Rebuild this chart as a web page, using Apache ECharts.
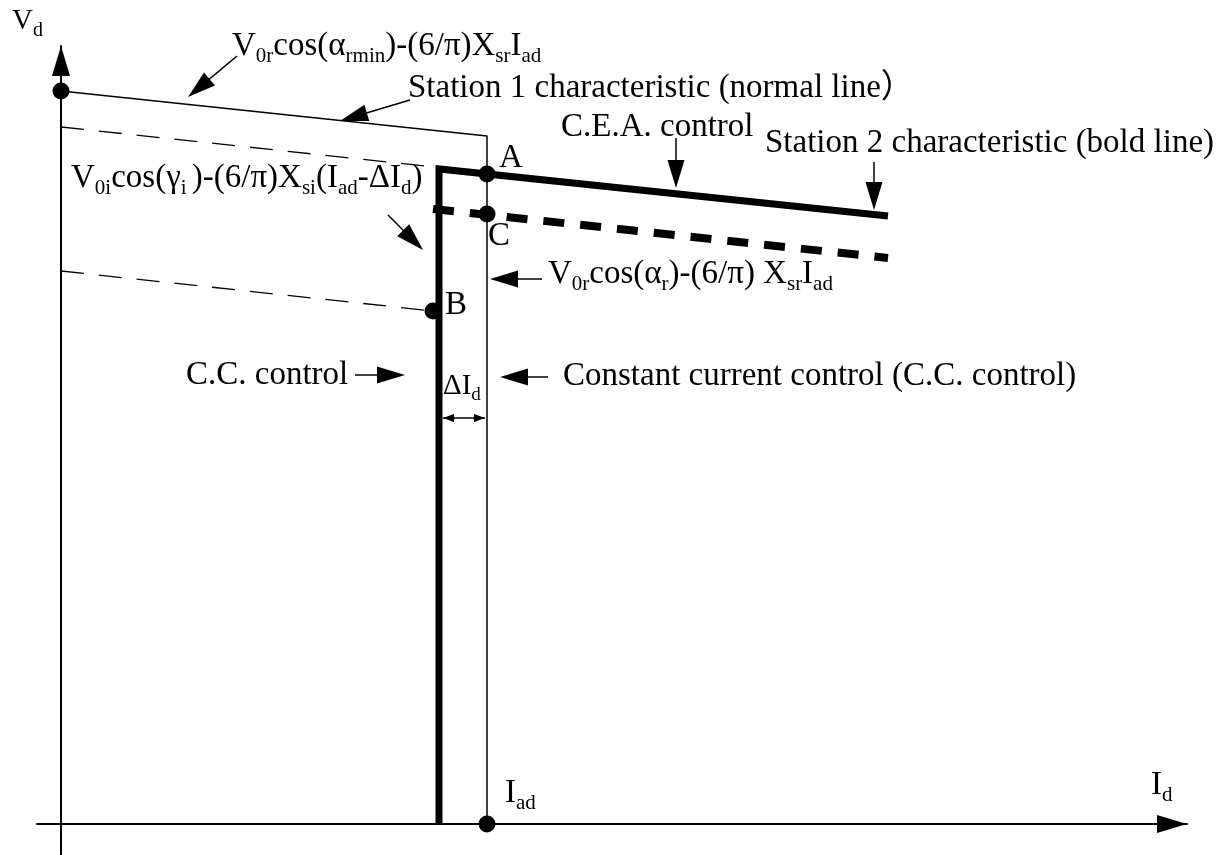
<!DOCTYPE html>
<html><head><meta charset="utf-8">
<script src="https://cdn.jsdelivr.net/npm/echarts@6/dist/echarts.min.js"></script>
<style>html,body{margin:0;padding:0;background:#fff}#c{width:1229px;height:855px}</style>
</head><body><div id="c"></div>
<script>
// Diagram values: Id along x, Vd along y, origin where the axes cross
const station1X = [0, 426, 426];
const station1Y = [733, 688, 0];
const station1DashHighX = [0, 364];
const station1DashHighY = [697, 658];
const station1DashLowX = [0, 372];
const station1DashLowY = [553, 513];
const station2X = [378, 378, 827];
const station2Y = [0, 655, 608];
const station2DashX = [372, 827];
const station2DashY = [615, 566];
const pointX = [0, 426, 426, 372, 426];
const pointY = [733, 650, 610, 513, 0];
// arrows: x1, y1 -> tip x2, y2, kind (0 single, 1 double small)
const arrows = [
  [176, 768, 127, 727, 0],
  [349, 724, 279, 703, 0],
  [615, 686, 615, 636, 0],
  [813, 662, 813, 614, 0],
  [327, 609, 362, 574, 0],
  [481, 545, 429, 545, 0],
  [294, 449, 344, 449, 0],
  [487, 447, 439, 447, 0],
  [382, 406, 424, 406, 1]
];
const labelTexts = [
  '{v|V}{vs|d}',
  '{m|V}{s|0r}{m|cos(α}{s|rmin}{m|)-(6/π)X}{s|sr}{m|I}{s|ad}',
  '{m|Station 1 characteristic (normal line）}',
  '{m|C.E.A. control}',
  '{m|Station 2 characteristic (bold line)}',
  '{m|A}',
  '{m|V}{s|0i}{m|cos(γ}{s|i }{m|)-(6/π)X}{s|si}{m|(I}{s|ad}{m|-ΔI}{s|d}{m|)}',
  '{m|C}',
  '{m|V}{s|0r}{m|cos(α}{s|r}{m|)-(6/π) X}{s|sr}{m|I}{s|ad}',
  '{m|B}',
  '{m|C.C. control}',
  '{d|ΔI}{ds|d}',
  '{m|Constant current control (C.C. control)}',
  '{m|I}{s|ad}',
  '{m|I}{s|d}'
];
const labelX = [-49, 171, 347, 500, 704, 438, 10, 427, 487, 384, 125, 382, 502, 444, 1090];
const labelY = [802, 777, 735, 696, 680, 665, 645, 587, 549, 518, 448, 437, 447, 30, 38];

const FONT = "'Liberation Serif','Times New Roman','Noto Sans CJK SC',serif";
const rich = {
  m: {fontFamily: FONT, fontSize: 33, lineHeight: 34, verticalAlign: 'top', fill: '#000'},
  s: {fontFamily: FONT, fontSize: 21, lineHeight: 21, padding: [16, 0, 0, 0], verticalAlign: 'top', fill: '#000'},
  v: {fontFamily: FONT, fontSize: 29, lineHeight: 30, verticalAlign: 'top', fill: '#000'},
  vs: {fontFamily: FONT, fontSize: 20, lineHeight: 20, padding: [14, 0, 0, 0], verticalAlign: 'top', fill: '#000'},
  d: {fontFamily: FONT, fontSize: 29, lineHeight: 30, verticalAlign: 'top', fill: '#000'},
  ds: {fontFamily: FONT, fontSize: 19, lineHeight: 19, padding: [14, 0, 0, 0], verticalAlign: 'top', fill: '#000'}
};

const zip = (xs, ys) => xs.map((x, i) => [x, ys[i]]);
const chart = echarts.init(document.getElementById('c'), null, {renderer: 'canvas'});

function head(tip, ux, uy, len, hw) {
  const bx = tip[0] - ux * len, by = tip[1] - uy * len;
  return {type: 'polygon', shape: {points: [[tip[0], tip[1]], [bx - uy * hw, by + ux * hw], [bx + uy * hw, by - ux * hw]]}, style: {fill: '#000'}};
}

const axisCommon = {
  type: 'value',
  axisTick: {show: false}, axisLabel: {show: false}, splitLine: {show: false},
  axisLine: {onZero: true, lineStyle: {color: '#000', width: 2}, symbol: ['none', 'triangle'], symbolSize: [18, 30], symbolOffset: [0, -15]}
};

chart.setOption({
  animation: false,
  backgroundColor: '#fff',
  grid: {left: 37, right: 42, top: 46, bottom: 0},
  xAxis: Object.assign({}, axisCommon, {min: -24, max: 1126}),
  yAxis: Object.assign({}, axisCommon, {min: -31, max: 778}),
  series: [
    {type: 'line', data: zip(station1X, station1Y), showSymbol: false, symbol: 'none',
     lineStyle: {color: '#000', width: 1.5}, z: 3},
    {type: 'line', data: zip(station1DashHighX, station1DashHighY), symbol: 'none',
     lineStyle: {color: '#000', width: 1.3, type: [23, 15]}, z: 3},
    {type: 'line', data: zip(station1DashLowX, station1DashLowY), symbol: 'none',
     lineStyle: {color: '#000', width: 1.3, type: [23, 15]}, z: 3},
    {type: 'line', data: zip(station2DashX, station2DashY), symbol: 'none',
     lineStyle: {color: '#000', width: 8, type: [21, 16], cap: 'butt'}, z: 4},
    {type: 'line', data: zip(station2X, station2Y), symbol: 'none',
     lineStyle: {color: '#000', width: 7, join: 'miter', cap: 'butt'}, z: 5},
    {type: 'scatter', data: zip(pointX, pointY), symbol: 'circle', symbolSize: 17,
     itemStyle: {color: '#000', opacity: 1}, z: 6},
    {type: 'custom', z: 7, clip: false,
     encode: {x: [0, 2], y: [1, 3]},
     data: arrows,
     renderItem: function (params, api) {
       const p1 = api.coord([api.value(0), api.value(1)]);
       const p2 = api.coord([api.value(2), api.value(3)]);
       const kind = api.value(4);
       const dx = p2[0] - p1[0], dy = p2[1] - p1[1];
       const L = Math.hypot(dx, dy), ux = dx / L, uy = dy / L;
       if (kind === 1) {
         const len = 11, hw = 4;
         return {type: 'group', children: [
           {type: 'line', shape: {x1: p1[0], y1: p1[1], x2: p2[0], y2: p2[1]}, style: {stroke: '#000', lineWidth: 1.5}},
           head(p2, ux, uy, len, hw),
           head(p1, -ux, -uy, len, hw)
         ]};
       }
       const len = 28, hw = 8.5;
       return {type: 'group', children: [
         {type: 'line', shape: {x1: p1[0], y1: p1[1], x2: p2[0] - ux * len * 0.8, y2: p2[1] - uy * len * 0.8}, style: {stroke: '#000', lineWidth: 1.5}},
         head(p2, ux, uy, len, hw)
       ]};
     }
    },
    {type: 'custom', z: 8, clip: false,
     encode: {x: 0, y: 1},
     data: labelX.map((x, i) => [x, labelY[i], i]),
     renderItem: function (params, api) {
       const p = api.coord([api.value(0), api.value(1)]);
       return {type: 'text', x: p[0], y: p[1],
         style: {text: labelTexts[params.dataIndex], rich: rich, align: 'left', verticalAlign: 'middle',
                 fontFamily: FONT, fontSize: 33, fill: '#000'}};
     }
    }
  ]
});
</script>
</body></html>
